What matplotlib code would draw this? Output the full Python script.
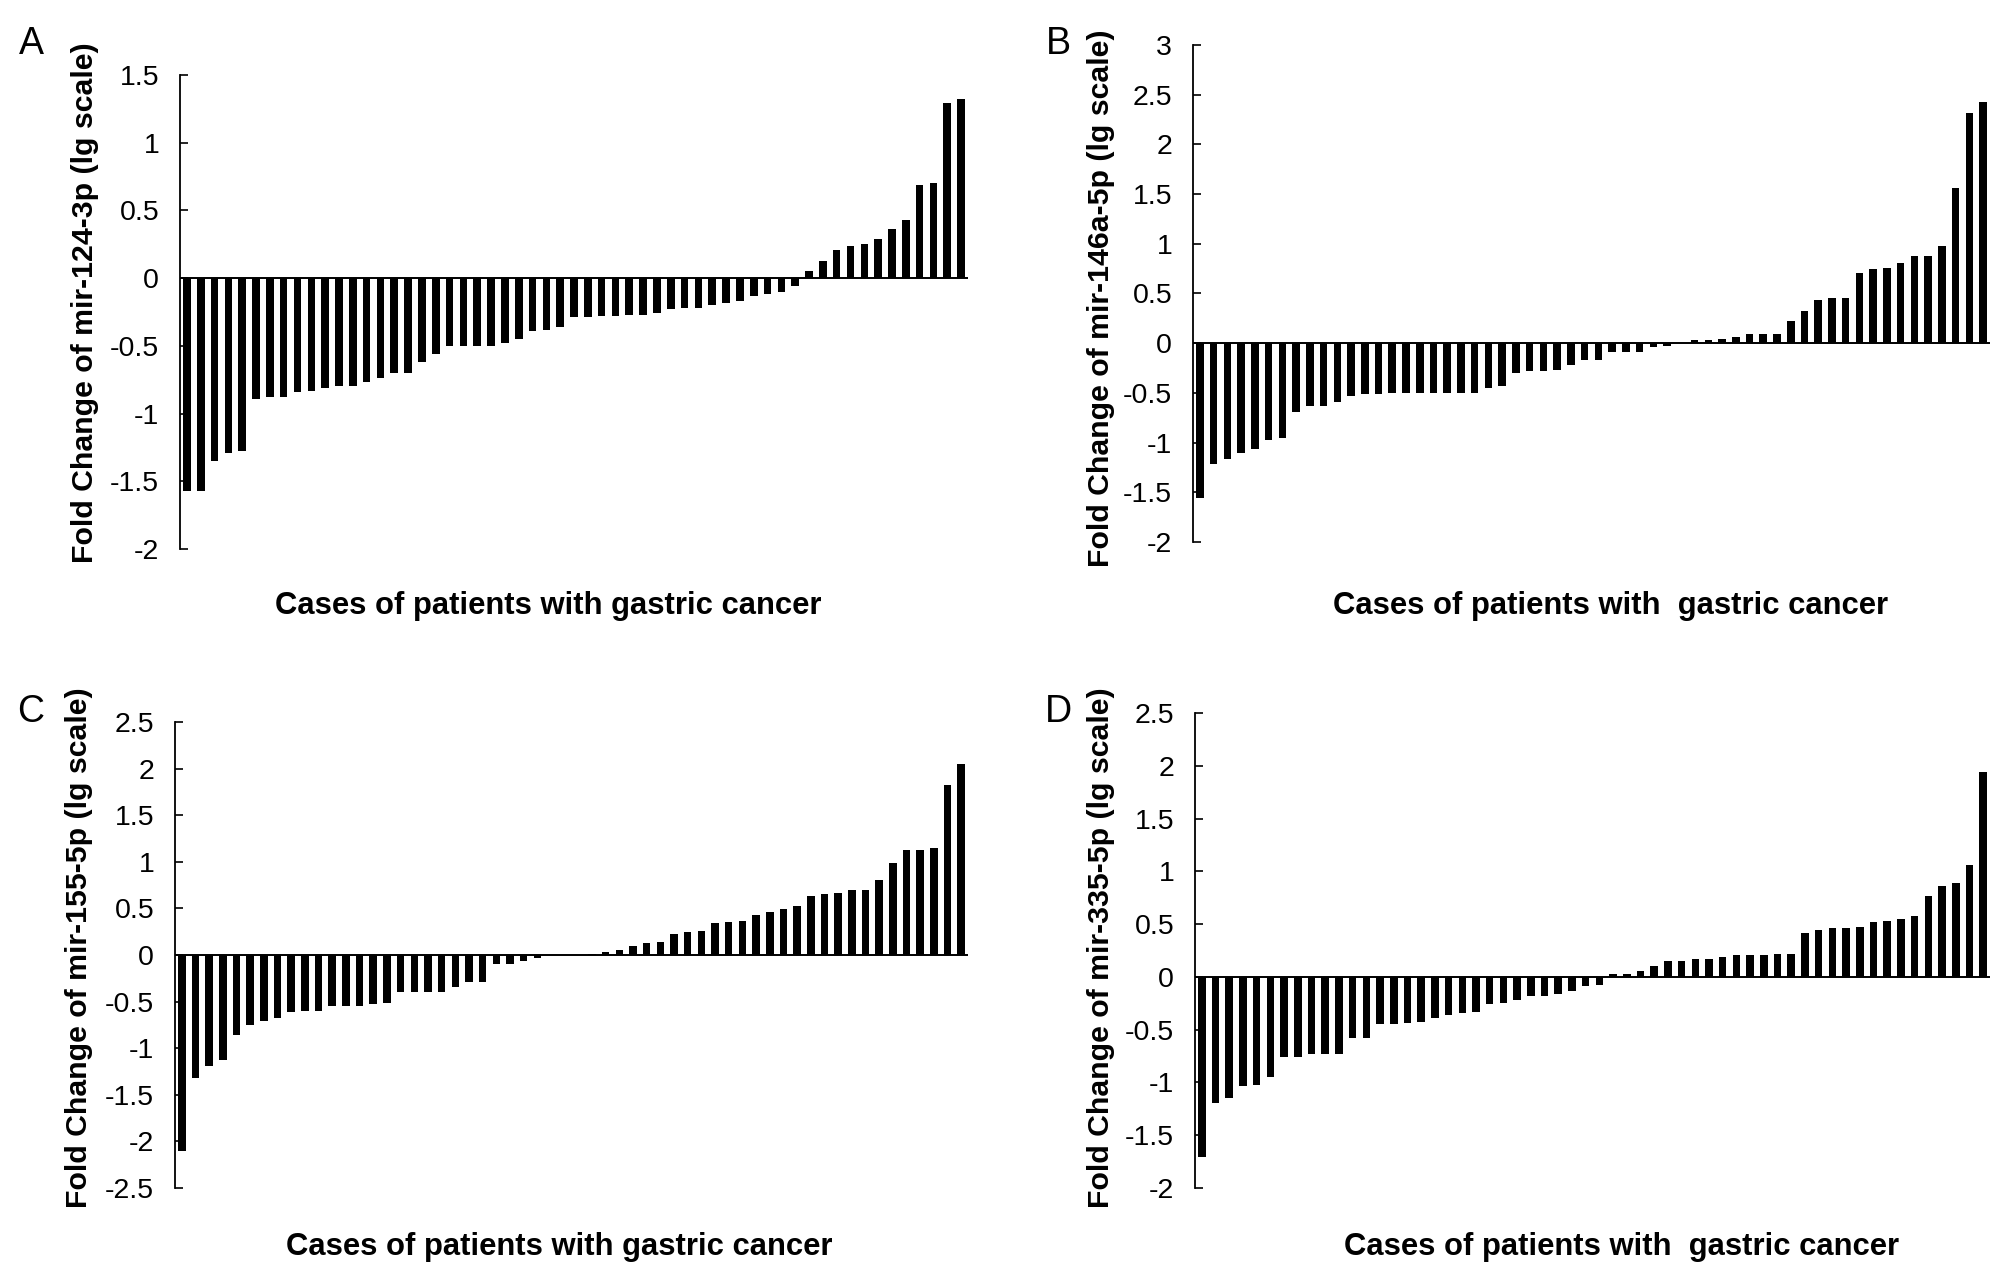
import matplotlib
matplotlib.use('Agg')
import matplotlib.pyplot as plt
import numpy as np

plt.rcParams['font.family'] = ['Liberation Sans', 'DejaVu Sans']
plt.rcParams['axes.unicode_minus'] = False

# fold change values (lg scale), sorted
mir124 = [-1.57, -1.57, -1.35, -1.29, -1.28, -0.89, -0.88, -0.88, -0.84, -0.83,
          -0.81, -0.80, -0.80, -0.77, -0.74, -0.70, -0.70, -0.62, -0.56, -0.50,
          -0.50, -0.50, -0.50, -0.48, -0.45, -0.39, -0.38, -0.36, -0.29, -0.29,
          -0.28, -0.28, -0.27, -0.27, -0.26, -0.23, -0.22, -0.22, -0.20, -0.18,
          -0.17, -0.13, -0.12, -0.10, -0.06, 0.05, 0.13, 0.21, 0.24, 0.25,
          0.29, 0.36, 0.43, 0.69, 0.70, 1.29, 1.32]
mir146a = [-1.56, -1.22, -1.17, -1.10, -1.06, -0.97, -0.95, -0.69, -0.63, -0.63,
           -0.59, -0.53, -0.51, -0.51, -0.50, -0.50, -0.50, -0.50, -0.50, -0.50,
           -0.50, -0.45, -0.43, -0.30, -0.28, -0.28, -0.27, -0.22, -0.17, -0.17,
           -0.09, -0.09, -0.09, -0.04, -0.03, 0.0, 0.03, 0.03, 0.04, 0.06,
           0.09, 0.09, 0.09, 0.22, 0.32, 0.43, 0.45, 0.45, 0.71, 0.75,
           0.76, 0.81, 0.88, 0.88, 0.98, 1.56, 2.32, 2.43]
mir155 = [-2.10, -1.32, -1.19, -1.13, -0.86, -0.75, -0.71, -0.68, -0.61, -0.60,
          -0.60, -0.55, -0.55, -0.55, -0.53, -0.52, -0.40, -0.40, -0.40, -0.40,
          -0.34, -0.29, -0.29, -0.10, -0.10, -0.06, -0.03, 0.0, 0.0, 0.0,
          0.01, 0.03, 0.05, 0.10, 0.125, 0.14, 0.22, 0.25, 0.26, 0.34,
          0.35, 0.37, 0.43, 0.46, 0.49, 0.53, 0.63, 0.65, 0.66, 0.70,
          0.70, 0.80, 0.99, 1.13, 1.13, 1.15, 1.82, 2.05]
mir335 = [-1.71, -1.19, -1.15, -1.03, -1.02, -0.95, -0.76, -0.76, -0.73, -0.73,
          -0.73, -0.58, -0.58, -0.45, -0.45, -0.44, -0.43, -0.39, -0.36, -0.34,
          -0.33, -0.26, -0.25, -0.22, -0.18, -0.18, -0.16, -0.13, -0.09, -0.08,
          0.03, 0.03, 0.06, 0.10, 0.15, 0.15, 0.165, 0.165, 0.19, 0.21,
          0.21, 0.21, 0.22, 0.22, 0.42, 0.44, 0.46, 0.46, 0.47, 0.52,
          0.53, 0.55, 0.58, 0.77, 0.86, 0.89, 1.06, 1.94]

ylabels = ['Fold Change of mir-124-3p (lg scale)', 'Fold Change of mir-146a-5p (lg scale)',
           'Fold Change of mir-155-5p (lg scale)', 'Fold Change of mir-335-5p (lg scale)']
xlabels = ['Cases of patients with gastric cancer', 'Cases of patients with  gastric cancer',
           'Cases of patients with gastric cancer', 'Cases of patients with  gastric cancer']
letters = ['A', 'B', 'C', 'D']
yticks = [np.arange(-2, 1.51, 0.5), np.arange(-2, 3.01, 0.5),
          np.arange(-2.5, 2.51, 0.5), np.arange(-2, 2.51, 0.5)]

W, H = 2008, 1275
fig = plt.figure(figsize=(W / 100, H / 100), dpi=100)

# axes boxes in pixels: left, right, top, bottom
boxes = [(180, 968, 75, 549), (1193, 1990, 45, 542),
         (175, 968, 722, 1188), (1195, 1990, 713, 1188)]
xlab_pos = [(548, 606), (1611, 606), (559, 1247), (1622, 1247)]
ylab_pos = [(85, 303), (1101, 298), (79, 948), (1101, 948)]
let_pos = [(31, 44), (1058, 44), (31, 712), (1058, 712)]

data = [mir124, mir146a, mir155, mir335]

for i, vals in enumerate(data):
    l, r, t, b = boxes[i]
    ax = fig.add_axes([l / W, 1 - b / H, (r - l) / W, (b - t) / H])
    x = np.arange(len(vals))
    ax.bar(x, vals, width=0.55, color='black')
    ax.axhline(0, color='black', lw=1.4)
    ax.set_xlim(-0.5, len(vals) - 0.5)
    tk = yticks[i]
    ax.set_ylim(tk[0], tk[-1])
    ax.set_yticks(tk)
    ax.set_yticklabels(['%g' % v if abs(v) > 1e-9 else '0' for v in tk])
    ax.tick_params(axis='y', direction='in', length=6, width=1.2, pad=15,
                   labelsize=20.5)
    ax.set_xticks([])
    for s in ['top', 'right', 'bottom']:
        ax.spines[s].set_visible(False)
    ax.spines['left'].set_linewidth(1.3)

    fig.text(xlab_pos[i][0] / W, 1 - xlab_pos[i][1] / H, xlabels[i],
             ha='center', va='center', fontsize=22.3, fontweight='bold')
    fig.text(ylab_pos[i][0] / W, 1 - ylab_pos[i][1] / H, ylabels[i],
             ha='center', va='center', rotation=90, fontsize=21.8, fontweight='bold')
    fig.text(let_pos[i][0] / W, 1 - let_pos[i][1] / H, letters[i],
             ha='center', va='center', fontsize=27)

fig.savefig('out.png', dpi=100, facecolor='white')
